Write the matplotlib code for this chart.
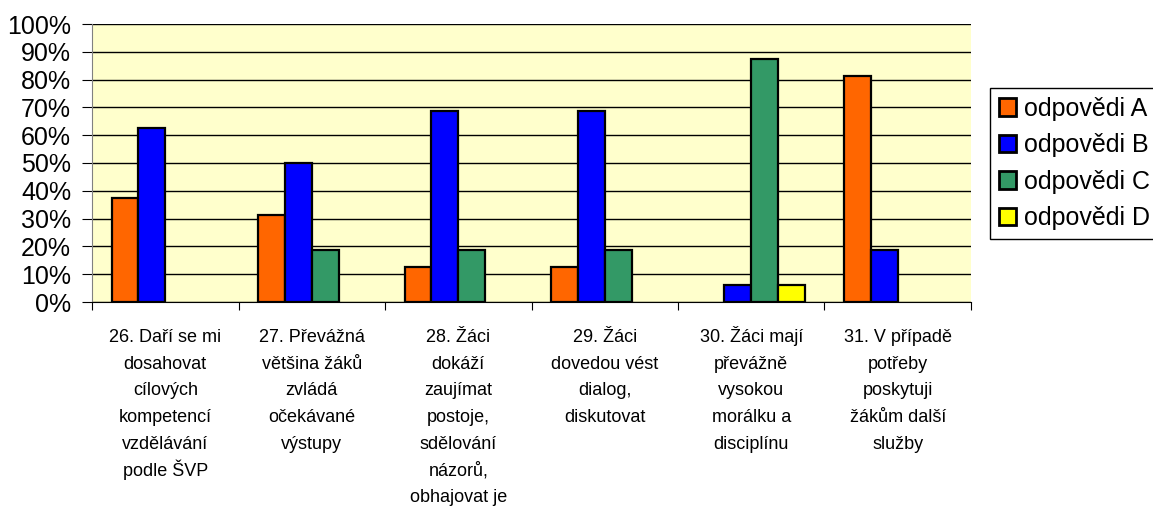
import numpy as np
import matplotlib.pyplot as plt
from matplotlib.ticker import FixedLocator, PercentFormatter

categories = [
    "26. Daří se mi\ndosahovat\ncílových\nkompetencí\nvzdělávání\npodle ŠVP",
    "27. Převážná\nvětšina žáků\nzvládá\nočekávané\nvýstupy",
    "28. Žáci\ndokáží\nzaujímat\npostoje,\nsdělování\nnázorů,\nobhajovat je",
    "29. Žáci\ndovedou vést\ndialog,\ndiskutovat",
    "30. Žáci mají\npřevážně\nvysokou\nmorálku a\ndisciplínu",
    "31. V případě\npotřeby\nposkytuji\nžákům další\nslužby",
]
series_names = ["odpovědi A", "odpovědi B", "odpovědi C", "odpovědi D"]
odpovedi_a = [37.5, 31.25, 12.5, 12.5, 0, 81.25]
odpovedi_b = [62.5, 50, 68.75, 68.75, 6.25, 18.75]
odpovedi_c = [0, 18.75, 18.75, 18.75, 87.5, 0]
odpovedi_d = [0, 0, 0, 0, 6.25, 0]
colors = ["#FF6600", "#0000FF", "#339966", "#FFFF00"]

plt.rcParams['font.family'] = ['Liberation Sans', 'DejaVu Sans']

fig = plt.figure(figsize=(11.53, 5.07), dpi=100)
ax = fig.add_axes([92/1153, 1-302/507, (971-92)/1153, (302-24)/507])
ax.set_facecolor("#FFFFCC")

x = np.arange(len(categories))
w = 0.183
all_series = [odpovedi_a, odpovedi_b, odpovedi_c, odpovedi_d]
for i, (vals, name, col) in enumerate(zip(all_series, series_names, colors)):
    vals = np.array(vals, dtype=float)
    pos = x + (i - 1.5) * w
    keep = vals > 0
    ax.bar(pos[keep], vals[keep], width=w, color=col, edgecolor="black",
           linewidth=1.6, zorder=3)
    # empty proxy for legend
    ax.bar([0], [0], width=0, color=col, edgecolor="black", linewidth=2, label=name)

ax.set_xlim(-0.5, len(categories) - 0.5)
ax.set_ylim(0, 100)
ax.set_yticks(np.arange(0, 101, 10))
ax.yaxis.set_major_formatter(PercentFormatter(decimals=0))
ax.yaxis.grid(True, color="black", linewidth=1, zorder=1)
ax.set_axisbelow(True)
ax.tick_params(axis='y', labelsize=18, length=7, pad=8)

ax.xaxis.set_major_locator(FixedLocator(np.arange(-0.5, len(categories), 1)))
ax.set_xticklabels([])
ax.tick_params(axis='x', which='major', length=6)

# category labels, line by line so the spacing stays even
for i, lab in enumerate(categories):
    for j, line in enumerate(lab.split("\n")):
        ax.annotate(line, xy=(x[i], 0), xycoords=('data', 'axes fraction'),
                    xytext=(0, -40 - j * 26.7), textcoords='offset pixels',
                    ha='center', va='baseline', fontsize=13)

for s in ["top", "right"]:
    ax.spines[s].set_visible(False)
ax.spines["left"].set_color("gray")
ax.spines["bottom"].set_color("black")

leg = fig.legend(loc='upper left', bbox_to_anchor=(990/1153, 1-88/507), fontsize=18,
                 handlelength=0.7, handleheight=0.7, handletextpad=0.3,
                 labelspacing=0.5, borderpad=0.35, borderaxespad=0, fancybox=False,
                 framealpha=1, edgecolor="black")
leg.get_frame().set_linewidth(1)

plt.savefig("out.png", dpi=100)
